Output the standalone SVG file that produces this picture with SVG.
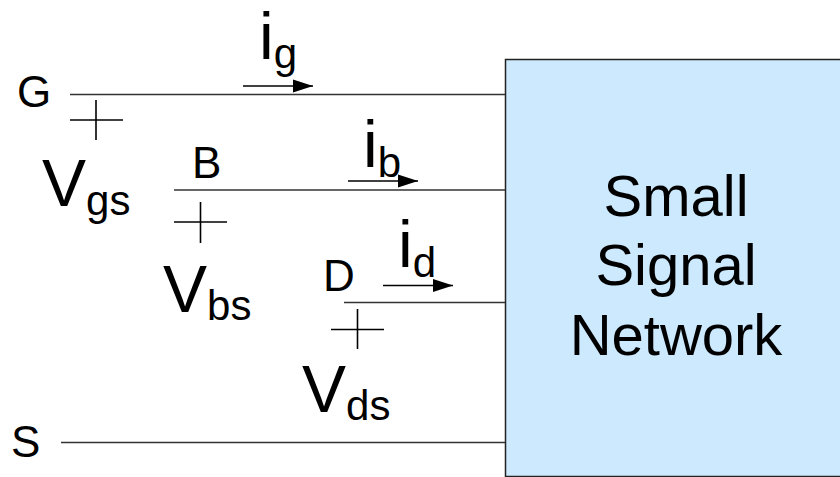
<svg xmlns="http://www.w3.org/2000/svg" width="840" height="477" viewBox="0 0 840 477">
<style>
.t{font-family:"Liberation Sans",Arial,sans-serif;fill:#000}
.lab{font-size:44px}
.big{font-size:66px}
.sub{font-size:42px}
.box{font-size:58px}
.wire{stroke:#333;stroke-width:1.4;fill:none}
.plus{stroke:#000;stroke-width:1.6;fill:none}
.cur{stroke:#000;stroke-width:1.6;fill:none;marker-end:url(#ah)}
</style>
<defs>
<marker id="ah" markerUnits="userSpaceOnUse" markerWidth="22" markerHeight="14" refX="20" refY="7" orient="auto">
<path d="M0,0.5 L20,7 L0,13.5 Z" fill="#000"/>
</marker>
</defs>
<rect width="840" height="477" fill="#fff"/>
<g id="network">
<rect x="505.5" y="59.5" width="340" height="417" fill="#cce9fd" stroke="#222" stroke-width="1.5"/>
<text class="t box" x="676" y="216" text-anchor="middle">Small</text>
<text class="t box" x="676" y="285" text-anchor="middle">Signal</text>
<text class="t box" x="676" y="355" text-anchor="middle">Network</text>
</g>
<g id="connectors">
<line class="wire" x1="70" y1="94.5" x2="505" y2="94.5"/>
<line class="wire" x1="174" y1="190" x2="505" y2="190"/>
<line class="wire" x1="344" y1="302.5" x2="505" y2="302.5"/>
<line class="wire" x1="61" y1="442.5" x2="505" y2="442.5"/>
<line class="cur" x1="243" y1="86" x2="313" y2="86"/>
<line class="cur" x1="348" y1="181" x2="418" y2="181"/>
<line class="cur" x1="383" y1="285.5" x2="453" y2="285.5"/>
</g>
<g id="gate">
<text class="t lab" x="17" y="107">G</text>
<line class="plus" x1="70" y1="120" x2="123" y2="120"/>
<line class="plus" x1="96" y1="100" x2="96" y2="140"/>
<text class="t big" x="42" y="206">V<tspan class="sub" dy="9">gs</tspan></text>
<text class="t big" x="259" y="59">i<tspan class="sub" dy="9">g</tspan></text>
</g>
<g id="bulk">
<text class="t lab" x="192" y="178">B</text>
<line class="plus" x1="174" y1="222" x2="227" y2="222"/>
<line class="plus" x1="200.5" y1="202" x2="200.5" y2="243"/>
<text class="t big" x="163" y="312">V<tspan class="sub" dy="8">bs</tspan></text>
<text class="t big" x="363" y="167">i<tspan class="sub" dy="10">b</tspan></text>
</g>
<g id="drain">
<text class="t lab" x="323" y="291">D</text>
<line class="plus" x1="331" y1="329.5" x2="384" y2="329.5"/>
<line class="plus" x1="357.5" y1="309" x2="357.5" y2="349"/>
<text class="t big" x="302" y="412">V<tspan class="sub" dy="8">ds</tspan></text>
<text class="t big" x="398" y="267">i<tspan class="sub" dy="10">d</tspan></text>
</g>
<g id="source">
<text class="t lab" x="11" y="457">S</text>
</g>
</svg>
